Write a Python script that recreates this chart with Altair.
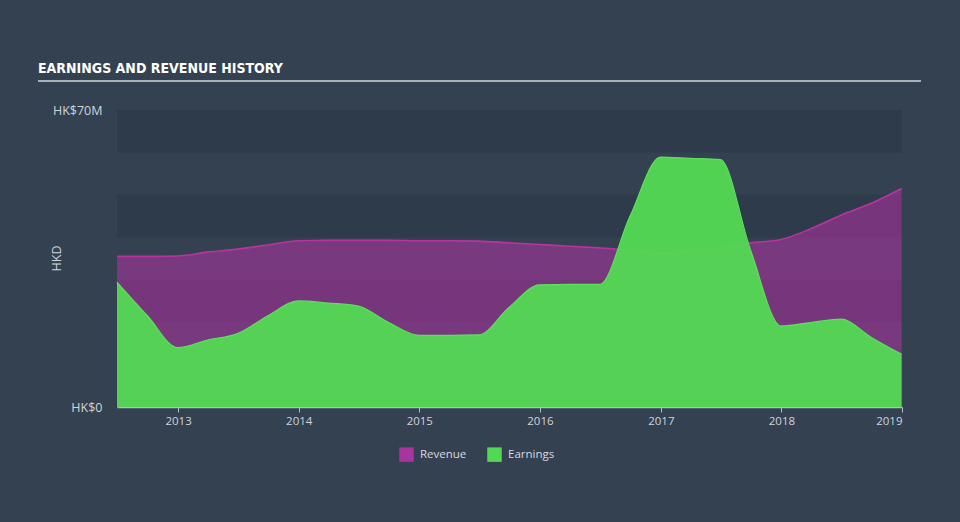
import altair as alt
import pandas as pd

# ---- data (values in HK$ millions) ----
dates = [
    "2012-06-30", "2012-09-30", "2012-12-31", "2013-03-31", "2013-06-30",
    "2013-09-30", "2013-12-31", "2014-03-31", "2014-06-30", "2014-09-30",
    "2014-12-31", "2015-03-31", "2015-06-30", "2015-09-30", "2015-12-31",
    "2016-03-31", "2016-06-30", "2016-09-30", "2016-12-31", "2017-03-31",
    "2017-06-30", "2017-09-30", "2017-12-31", "2018-03-31", "2018-06-30",
    "2018-09-30", "2018-12-31",
]
revenue = [
    35.5, 35.5, 35.6, 36.5, 37.2,
    38.2, 39.2, 39.3, 39.3, 39.3,
    39.2, 39.2, 39.1, 38.7, 38.3,
    37.9, 37.5, 37.0, 36.3, 36.8,
    37.6, 38.7, 39.5, 42.0, 45.2,
    48.0, 51.5,
]
earnings = [
    29.4, 21.5, 14.0, 15.8, 17.3,
    21.5, 25.0, 24.5, 23.8, 19.9,
    16.9, 16.9, 17.0, 23.5, 28.8,
    28.9, 28.9, 45.0, 58.9, 58.6,
    58.3, 36.9, 19.1, 19.9, 20.7,
    16.4, 12.4,
]
series_names = ["Revenue", "Earnings"]
series_colors = ["#a8349e", "#53d853"]
band_low = [0, 20, 40, 60]
band_high = [10, 30, 50, 70]
year_ticks = [2013, 2014, 2015, 2016, 2017, 2018, 2019]
x_start = "2012-06-30"
x_end = "2019-01-01"

rev_df = pd.DataFrame({"date": dates, "value": revenue, "series": "Revenue"})
earn_df = pd.DataFrame({"date": dates, "value": earnings, "series": "Earnings"})
band_df = pd.DataFrame({"lo": band_low, "hi": band_high,
                        "xs": [x_start] * len(band_low), "xe": [x_end] * len(band_low)})

FONT = "Open Sans"
TITLE_FONT = "'Liberation Sans Narrow', 'DejaVu Sans Condensed', 'Roboto Condensed', 'Noto Sans', sans-serif"
W, H = 785, 297

x_scale = alt.Scale(domain=[x_start, x_end], nice=False)
y_scale = alt.Scale(domain=[0, 70], nice=False)
color_scale = alt.Scale(domain=series_names, range=series_colors)

x_axis = alt.Axis(
    values=[alt.DateTime(year=y, month=1, date=1) for y in year_ticks],
    format="%Y", title=None, grid=False,
    domainColor="#b4bcc6", domainWidth=1.5, tickColor="#b4bcc6", tickSize=5,
    labelColor="#d0d4da", labelFontSize=11.5, labelFont=FONT, labelPadding=3,
)
y_axis = alt.Axis(
    values=[0, 70], labelExpr="datum.value == 0 ? 'HK$0' : 'HK$' + datum.value + 'M'",
    title="HKD", titleColor="#d0d4da", titleFont=FONT, titleFontSize=12.5,
    titleFontWeight="normal", titleX=-61, titleY=148, titleAlign="center",
    titleBaseline="middle", titleAngle=270,
    domain=False, ticks=False, grid=False, labelPadding=15,
    labelColor="#d0d4da", labelFontSize=12.5, labelFont=FONT,
)

bands = alt.Chart(band_df).mark_rect(color="#2d3b4a").encode(
    x=alt.X("xs:T", scale=x_scale, axis=x_axis),
    x2="xe:T",
    y=alt.Y("lo:Q", scale=y_scale, axis=y_axis),
    y2="hi:Q",
)

legend = alt.Legend(
    title=None, orient="none", direction="horizontal", legendX=282, legendY=337,
    symbolType="square", symbolSize=210, symbolOpacity=1, symbolStrokeWidth=0,
    labelColor="#d6dae0", labelFont=FONT, labelFontSize=11.5, labelOffset=6,
    columnPadding=20,
)
color_enc = alt.Color("series:N", scale=color_scale, legend=legend)

def area_layer(df, opacity):
    return alt.Chart(df).mark_area(interpolate="monotone", opacity=opacity).encode(
        x=alt.X("date:T", scale=x_scale),
        y=alt.Y("value:Q", scale=y_scale),
        color=color_enc,
    )

def line_layer(df, width, color):
    return alt.Chart(df).mark_line(interpolate="monotone", strokeWidth=width, color=color).encode(
        x=alt.X("date:T", scale=x_scale),
        y=alt.Y("value:Q", scale=y_scale),
    )

rev_area = area_layer(rev_df, 0.6)
rev_line = line_layer(rev_df, 1.6, "#b8359f")
earn_area = area_layer(earn_df, 0.96)
earn_line = line_layer(earn_df, 1.2, "#5be35b")

title_rule = alt.Chart(pd.DataFrame({"k": [0]})).mark_rule(
    color="#a9b0b8", strokeWidth=2
).encode(x=alt.value(-79), x2=alt.value(804), y=alt.value(-29))

chart = alt.layer(bands, rev_area, rev_line, earn_area, earn_line, title_rule).properties(
    width=W, height=H,
    title=alt.TitleParams(
        text="EARNINGS AND REVENUE HISTORY", anchor="start", frame="group",
        dx=-79, dy=23, offset=27, font=TITLE_FONT, fontSize=14,
        fontWeight="bold", color="#ffffff",
    ),
    background="#334151",
    padding={"left": 117, "top": 110, "right": 58, "bottom": 115},
    autosize=alt.AutoSizeParams(type="none"),
).configure_view(stroke=None).resolve_scale(color="shared")

chart.save("out.html", embed_options={"renderer": "svg", "actions": False})
